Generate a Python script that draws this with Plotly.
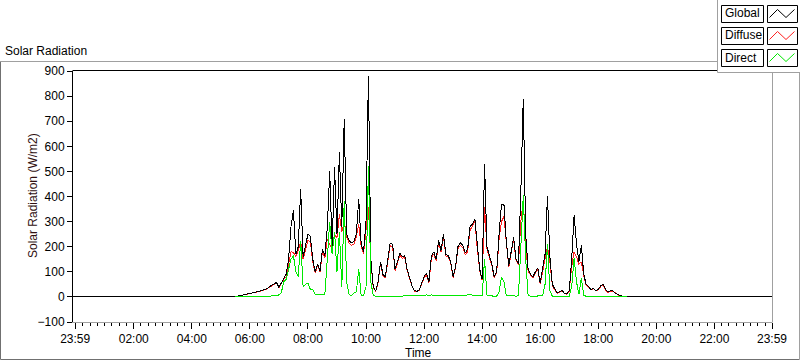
import pandas as pd
import plotly.graph_objects as go

# ---------------- data (5-minute samples, 05:30 .. 19:00) ----------------
DAY_START = "2024-01-01 05:30"
N_SAMPLES = 163
LOG_START = "2023-12-31 23:55"
LOG_END = "2024-01-01 23:59"

global_wm2 = [
    0, 3, 5, 7, 8, 10, 12, 14, 16, 18, 22, 25,
    30, 32, 40, 45, 52, 58, 38, 55, 75, 90, 150, 280,
    345, 170, 200, 428, 160, 200, 250, 240, 150, 100, 130, 105,
    190, 165, 275, 500, 200, 517, 250, 577, 280, 707, 250, 225,
    215, 220, 250, 390, 210, 180, 300, 880, 150, 40, 24, 60,
    140, 90, 80, 150, 215, 210, 110, 140, 175, 160, 165, 110,
    75, 45, 25, 22, 28, 55, 80, 95, 60, 160, 180, 150,
    225, 185, 250, 170, 165, 140, 80, 120, 200, 215, 205, 175,
    190, 280, 290, 310, 200, 110, 70, 530, 200, 165, 130, 80,
    100, 250, 370, 370, 220, 124, 184, 237, 151, 133, 420, 790,
    250, 110, 90, 80, 100, 115, 55, 110, 170, 400, 160, 50,
    30, 15, 20, 25, 15, 12, 25, 150, 325, 210, 140, 205,
    90, 50, 40, 30, 35, 25, 30, 45, 50, 30, 20, 25,
    25, 15, 10, 5, 2, 0, 0,
]

diffuse_wm2 = [
    0, 3, 5, 7, 8, 10, 12, 14, 16, 18, 21, 24,
    29, 31, 38, 43, 50, 55, 36, 52, 70, 80, 130, 180,
    177, 160, 185, 220, 150, 190, 225, 220, 140, 95, 125, 100,
    180, 155, 230, 210, 190, 250, 235, 330, 260, 300, 240, 215,
    205, 210, 240, 290, 200, 172, 270, 360, 140, 38, 22, 57,
    134, 86, 76, 144, 205, 200, 105, 134, 168, 154, 158, 105,
    72, 43, 23, 20, 26, 52, 76, 88, 56, 152, 172, 144,
    215, 178, 240, 163, 158, 135, 77, 115, 192, 206, 196, 168,
    180, 265, 280, 300, 192, 105, 66, 360, 190, 158, 125, 77,
    96, 230, 300, 320, 212, 118, 176, 228, 146, 128, 300, 390,
    200, 104, 86, 76, 96, 110, 52, 105, 150, 200, 140, 47,
    28, 14, 18, 23, 14, 11, 23, 120, 180, 160, 130, 140,
    85, 47, 38, 28, 33, 23, 28, 42, 47, 28, 18, 23,
    23, 14, 9, 5, 2, 0, 0,
]

direct_wm2 = [
    0, 0, 0, 0, 1, 1, 1, 1, 1, 2, 2, 2,
    3, 3, 3, 4, 4, 5, 8, 17, 60, 70, 110, 150,
    165, 100, 80, 224, 40, 50, 55, 30, 30, 10, 8, 8,
    8, 10, 150, 300, 170, 260, 100, 260, 40, 384, 60, 10,
    5, 15, 20, 110, 5, 5, 40, 520, 60, 5, 3, 3,
    4, 3, 3, 4, 4, 3, 3, 4, 4, 3, 3, 3,
    2, 2, 2, 2, 3, 3, 4, 8, 5, 8, 6, 4,
    5, 4, 4, 4, 3, 3, 3, 3, 4, 4, 4, 5,
    8, 12, 6, 5, 4, 3, 4, 150, 8, 4, 3, 3,
    3, 20, 77, 60, 5, 4, 5, 4, 3, 4, 200, 404,
    150, 5, 3, 3, 3, 3, 3, 4, 50, 210, 25, 3,
    3, 2, 3, 3, 2, 2, 3, 40, 155, 60, 10, 75,
    5, 3, 3, 2, 2, 2, 2, 3, 3, 2, 2, 2,
    2, 1, 1, 1, 0, 0, 0,
]

tick_times = ["2023-12-31 23:59", "2024-01-01 02:00", "2024-01-01 04:00",
              "2024-01-01 06:00", "2024-01-01 08:00", "2024-01-01 10:00",
              "2024-01-01 12:00", "2024-01-01 14:00", "2024-01-01 16:00",
              "2024-01-01 18:00", "2024-01-01 20:00", "2024-01-01 22:00",
              "2024-01-01 23:59"]
tick_labels = ["23:59", "02:00", "04:00", "06:00", "08:00", "10:00", "12:00",
               "14:00", "16:00", "18:00", "20:00", "22:00", "23:59"]
y_ticks = [-100, 0, 100, 200, 300, 400, 500, 600, 700, 800, 900]

series_names = ["Global", "Diffuse", "Direct"]
series_colors = ["#000000", "#ff2020", "#00e800"]

# ---------------- build ----------------
day_times = list(pd.date_range(DAY_START, periods=N_SAMPLES, freq="5min"))
full_times = [pd.Timestamp(LOG_START)] + day_times + [pd.Timestamp(LOG_END)]

FONT = "Liberation Sans, Arial, sans-serif"
W, H = 800, 361
PL, PR, PT, PB = 73, 772, 71, 322


def px(X):
    return (X - PL) / (PR - PL)


def py(Y):
    return (PB - Y) / (PB - PT)


fig = go.Figure()
fig.add_trace(go.Scatter(x=full_times, y=[0] + diffuse_wm2 + [0], mode="lines",
                         name="Diffuse", line=dict(color=series_colors[1], width=1)))
fig.add_trace(go.Scatter(x=full_times, y=[0] + global_wm2 + [0], mode="lines",
                         name="Global", line=dict(color=series_colors[0], width=1)))
fig.add_trace(go.Scatter(x=day_times, y=direct_wm2, mode="lines",
                         name="Direct", line=dict(color=series_colors[2], width=1)))

shapes = []
annotations = []
GRAY = "#a0a0a0"
# outer frame
shapes.append(dict(type="line", xref="paper", yref="paper", x0=px(0.5), x1=px(717), y0=py(61.5), y1=py(61.5),
                   line=dict(color=GRAY, width=1)))
shapes.append(dict(type="line", xref="paper", yref="paper", x0=px(0.5), x1=px(0.5), y0=py(61.5), y1=py(359.5),
                   line=dict(color="#707070", width=1)))
shapes.append(dict(type="line", xref="paper", yref="paper", x0=px(0.5), x1=px(799.5), y0=py(359.5), y1=py(359.5),
                   line=dict(color="#707070", width=1)))
shapes.append(dict(type="line", xref="paper", yref="paper", x0=px(799.5), x1=px(799.5), y0=py(72), y1=py(359.5),
                   line=dict(color=GRAY, width=1)))
# plot box: top black, right gray
shapes.append(dict(type="line", xref="paper", yref="paper", x0=px(72.5), x1=px(772.5), y0=py(70.5), y1=py(70.5),
                   line=dict(color="black", width=1)))
shapes.append(dict(type="line", xref="paper", yref="paper", x0=px(772.5), x1=px(772.5), y0=py(322.5), y1=py(70.5),
                   line=dict(color=GRAY, width=1)))

# legend panel
shapes.append(dict(type="rect", xref="paper", yref="paper", x0=px(717.5), x1=px(801), y0=py(72.5), y1=py(-1),
                   line=dict(color=GRAY, width=1), fillcolor="white", layer="above"))
for i, (nm, col) in enumerate(zip(series_names, series_colors)):
    top = 5 + 22 * i
    bot = top + 17
    shapes.append(dict(type="rect", xref="paper", yref="paper", x0=px(721.5), x1=px(763.5),
                       y0=py(bot + 0.5), y1=py(top + 0.5), line=dict(color="black", width=1),
                       fillcolor="white", layer="above"))
    shapes.append(dict(type="rect", xref="paper", yref="paper", x0=px(767.5), x1=px(797.5),
                       y0=py(bot + 0.5), y1=py(top + 0.5), line=dict(color="black", width=1),
                       fillcolor="white", layer="above"))
    path = "M {} {} L {} {} L {} {} L {} {}".format(
        px(769.5), py(top + 12.5), px(777.5), py(top + 4.5),
        px(786), py(top + 12.5), px(794.5), py(top + 4.5))
    shapes.append(dict(type="path", xref="paper", yref="paper", path=path,
                       line=dict(color=col, width=1), layer="above"))
    annotations.append(dict(xref="paper", yref="paper", x=px(723), y=py(top + 8.5), text=nm,
                            showarrow=False, xanchor="left", yanchor="middle",
                            font=dict(family=FONT, size=12, color="black")))

# titles
annotations.append(dict(xref="paper", yref="paper", x=px(3), y=py(51), text="Solar Radiation",
                        showarrow=False, xanchor="left", yanchor="middle",
                        font=dict(family=FONT, size=12, color="black")))
annotations.append(dict(xref="paper", yref="paper", x=px(33), y=py(196), text="Solar Radiation (W/m2)",
                        showarrow=False, xanchor="center", yanchor="middle", textangle=-90,
                        font=dict(family=FONT, size=12, color="#301010")))
annotations.append(dict(xref="paper", yref="paper", x=px(403), y=py(353), text="Time",
                        showarrow=False, xanchor="left", yanchor="middle",
                        font=dict(family=FONT, size=12, color="black")))

fig.update_layout(
    width=W, height=H, autosize=False,
    margin=dict(l=PL, r=W - PR, t=PT, b=H - PB, pad=0),
    paper_bgcolor="white", plot_bgcolor="white",
    showlegend=False,
    shapes=shapes, annotations=annotations,
    font=dict(family=FONT, size=12, color="black"),
    xaxis=dict(
        type="date",
        range=["2023-12-31 23:54:30", "2024-01-01 23:59:00"],
        tickmode="array", tickvals=tick_times, ticktext=tick_labels,
        ticks="outside", ticklen=6, tickcolor="black", tickwidth=1,
        showline=True, linecolor=GRAY, linewidth=1,
        showgrid=False, zeroline=False,
        tickfont=dict(family=FONT, size=12, color="black"),
        minor=dict(ticks="outside", ticklen=3, tickcolor="black", tickmode="linear",
                   tick0="2024-01-01 00:00", dtick=15 * 60 * 1000, showgrid=False),
    ),
    yaxis=dict(
        range=[-100, 900], tickmode="array", tickvals=y_ticks,
        ticks="outside", ticklen=5, tickcolor="black", tickwidth=1,
        showline=True, linecolor="black", linewidth=1,
        showgrid=False, zeroline=False,
        tickfont=dict(family=FONT, size=12, color="black"),
    ),
)

fig.write_html(
    "out.html",
    config={"displayModeBar": False},
    post_script=(
        "document.body.style.margin='0';document.body.style.overflow='hidden';"
        "document.querySelectorAll('.scatterlayer path.js-line').forEach(function(p){"
        "p.style.shapeRendering='crispEdges';});"
    ),
)
